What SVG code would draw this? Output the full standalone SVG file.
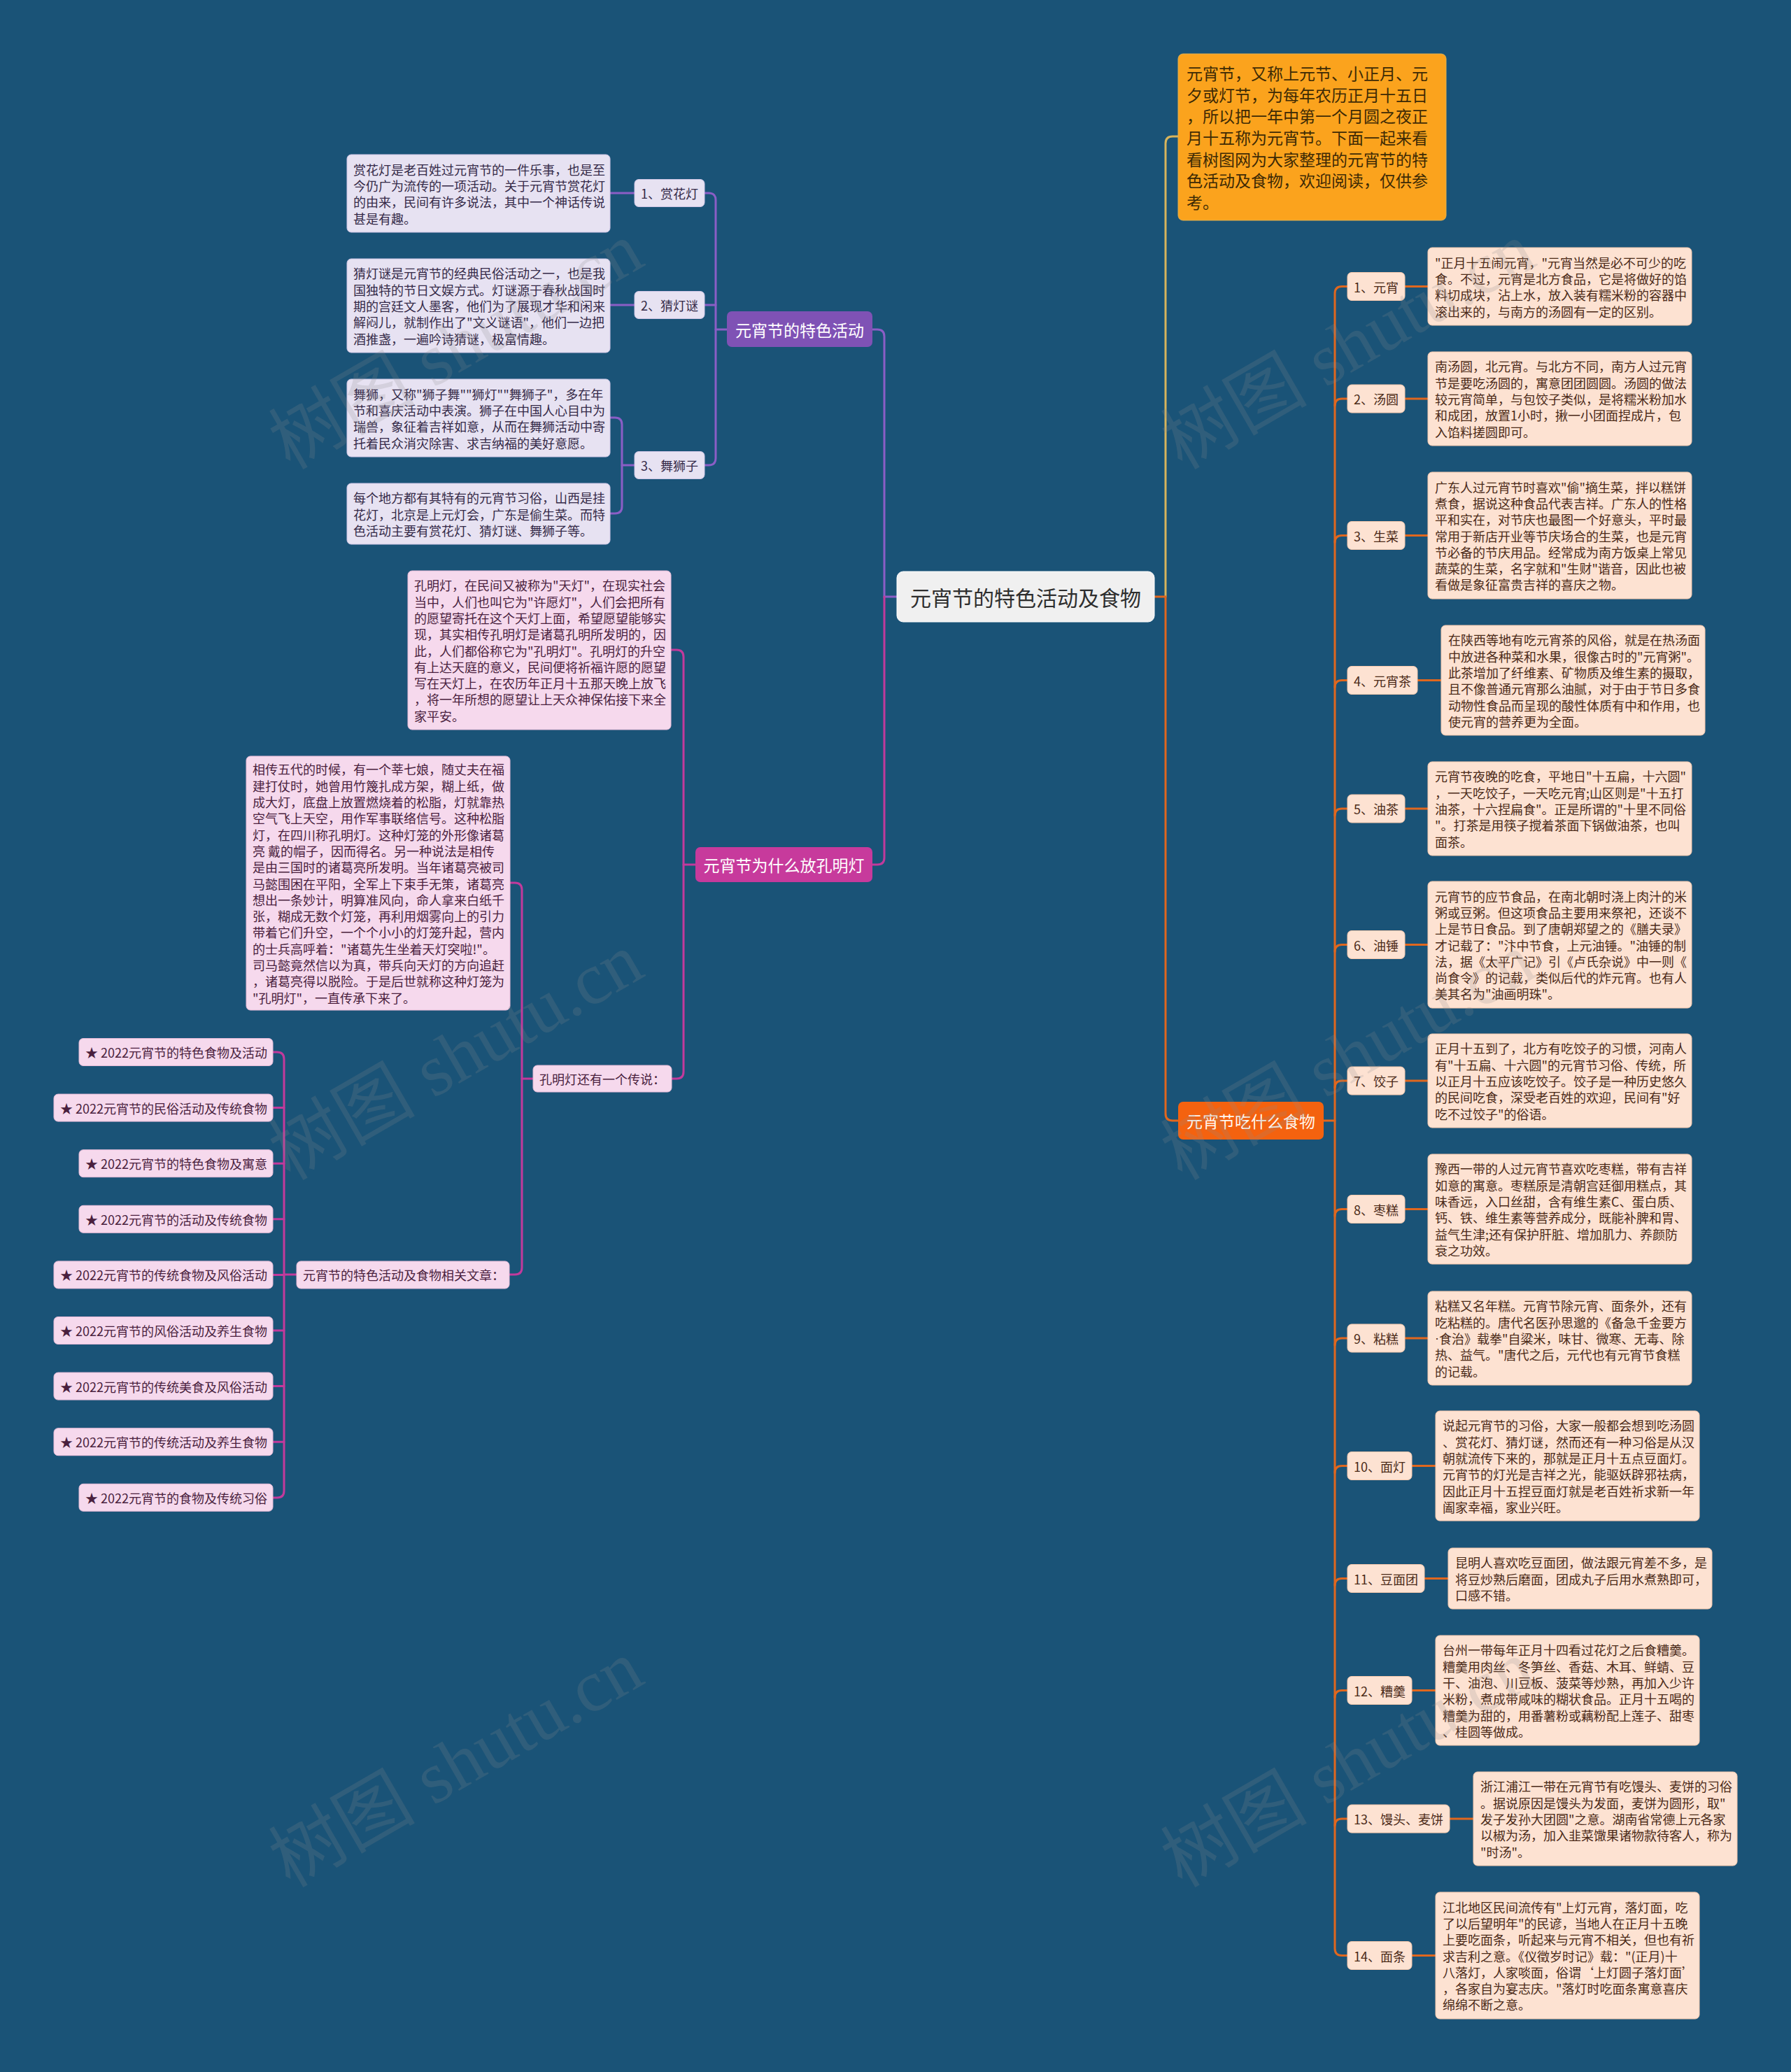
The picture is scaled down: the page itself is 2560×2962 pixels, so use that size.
<svg xmlns="http://www.w3.org/2000/svg" width="2560" height="2962" viewBox="0 0 2560 2962">
<style>
text{font-family:"Noto Sans CJK SC","Microsoft YaHei",sans-serif;dominant-baseline:central}
.t18{font-size:18px}
.t23{font-size:23px}
.food rect{fill:#fde2d2;stroke:#f6c9ae;stroke-width:1}
.food text{fill:#4b2a18}
.purp rect{fill:#e7e2f2;stroke:#cfc6e6;stroke-width:1}
.purp text{fill:#352a48}
.mag rect{fill:#f6d9ed;stroke:#e6bcd8;stroke-width:1}
.mag text{fill:#4a1f3e}
.c{fill:none;stroke-width:3;stroke-linecap:round}
.cp{stroke:#8b5ec6}
.cm{stroke:#c23a9c}
.co{stroke:#e0671e}
.cy{stroke:#d7b45c}
.wm{font-family:"Liberation Serif","Noto Sans CJK SC",serif;font-size:105px;fill:#8a8a8a;fill-opacity:0.2;dominant-baseline:auto}
</style>
<rect width="2560" height="2962" fill="#1a5377"/>

<g id="connectors">
<path class="c cy" d="M1666,853 V205 Q1666,195 1676,195 H1684"/>
<path class="c co" d="M1650,853 H1666 V1592 Q1666,1602 1676,1602 H1684"/>
<path class="c cp" d="M1282,853 H1264 V481 Q1264,471 1254,471 H1247"/>
<path class="c cm" d="M1264,853 V1226 Q1264,1236 1254,1236 H1247"/>
<path class="c cp" d="M1039,471 H1023"/>
<path class="c cp" d="M1007,276 H1013 Q1023,276 1023,286 V655 Q1023,665 1013,665 H1007"/>
<path class="c cp" d="M1007,436 H1023"/>
<path class="c cp" d="M907,276 H872"/>
<path class="c cp" d="M907,436 H872"/>
<path class="c cp" d="M907,665 H889"/>
<path class="c cp" d="M872,597 H879 Q889,597 889,607 V724 Q889,734 879,734 H872"/>
<path class="c cm" d="M994,1236 H977"/>
<path class="c cm" d="M959,929 H967 Q977,929 977,939 V1532 Q977,1542 967,1542 H960"/>
<path class="c cm" d="M762,1542 H746"/>
<path class="c cm" d="M729,1262 H736 Q746,1262 746,1272 V1812 Q746,1822 736,1822 H728"/>
<path class="c cm" d="M424,1822 H406"/>
<path class="c cm" d="M390,1504 H396 Q406,1504 406,1514 V2131 Q406,2141 396,2141 H390"/>
<path class="c cm" d="M390,1583.6 H406 M390,1663.2 H406 M390,1742.8 H406 M390,1822.4 H406 M390,1902 H406 M390,1981.6 H406 M390,2061.2 H406"/>
<path class="c co" d="M1892,1602 H1908"/>
<path class="c co" d="M1926,409.5 H1918 Q1908,409.5 1908,419.5 V2785.5 Q1908,2795.5 1918,2795.5 H1926"/>
<path class="c co" d="M1908,580 Q1908,570 1918,570 H1926 M1908,775.5 Q1908,765.5 1918,765.5 H1926 M1908,982.5 Q1908,972.5 1918,972.5 H1926 M1908,1166 Q1908,1156 1918,1156 H1926 M1908,1360.5 Q1908,1350.5 1918,1350.5 H1926 M1908,1555 Q1908,1545 1918,1545 H1926 M1908,1738.5 Q1908,1728.5 1918,1728.5 H1926 M1908,1923 Q1908,1913 1918,1913 H1926 M1908,2105.5 Q1908,2095.5 1918,2095.5 H1926 M1908,2266.5 Q1908,2256.5 1918,2256.5 H1926 M1908,2426.5 Q1908,2416.5 1918,2416.5 H1926 M1908,2610 Q1908,2600 1918,2600 H1926"/>
<path class="c co" d="M2008,409.5 H2041 M2008,570 H2041 M2008,765.5 H2041 M2026,972.5 H2060 M2008,1156 H2041 M2008,1350.5 H2041 M2008,1545 H2041 M2008,1728.5 H2041 M2008,1913 H2041 M2018,2095.5 H2052 M2036,2256.5 H2070 M2018,2416.5 H2052 M2072,2600 H2106 M2018,2795.5 H2052"/>
</g>

<g id="root">
<rect x="1282" y="817" width="368" height="72" rx="9" fill="#f0f0f0" stroke="#ffffff"/>
<text x="1466" y="853" font-size="30" fill="#2e2e2e" text-anchor="middle">元宵节的特色活动及食物</text>
</g>

<g id="intro">
<rect x="1684" y="77" width="383" height="238" rx="7" fill="#fba31d" stroke="#e0b050"/>
<text class="t23" fill="#3d2a05" x="1696">
<tspan x="1696" y="104.2">元宵节，又称上元节、小正月、元</tspan>
<tspan x="1696" y="134.8">夕或灯节，为每年农历正月十五日</tspan>
<tspan x="1696" y="165.4">，所以把一年中第一个月圆之夜正</tspan>
<tspan x="1696" y="196">月十五称为元宵节。下面一起来看</tspan>
<tspan x="1696" y="226.6">看树图网为大家整理的元宵节的特</tspan>
<tspan x="1696" y="257.2">色活动及食物，欢迎阅读，仅供参</tspan>
<tspan x="1696" y="287.8">考。</tspan>
</text>
</g>

<g id="food-node">
<rect x="1684" y="1575" width="208" height="54" rx="7" fill="#f4620f"/>
<text class="t23" x="1788" y="1602" fill="#fff6ee" text-anchor="middle">元宵节吃什么食物</text>
</g>

<g id="activity-node">
<rect x="1039" y="445" width="208" height="51" rx="7" fill="#7f52b5"/>
<text class="t23" x="1143" y="470.5" fill="#ffffff" text-anchor="middle">元宵节的特色活动</text>
</g>

<g id="kongming-node">
<rect x="994" y="1211" width="253" height="50" rx="7" fill="#c73a9c"/>
<text class="t23" x="1120.5" y="1236" fill="#ffffff" text-anchor="middle">元宵节为什么放孔明灯</text>
</g>

<g id="p-label-1" class="purp"><rect x="907" y="256.5" width="100" height="39" rx="6"/><text class="t18" x="916" y="276">1、赏花灯</text></g>
<g id="p-label-2" class="purp"><rect x="907" y="416.5" width="100" height="39" rx="6"/><text class="t18" x="916" y="436">2、猜灯谜</text></g>
<g id="p-label-3" class="purp"><rect x="907" y="645.5" width="100" height="39" rx="6"/><text class="t18" x="916" y="665">3、舞狮子</text></g>
<g id="p-text-1" class="purp"><rect x="496" y="221" width="376" height="111" rx="6"/>
<text class="t18"><tspan x="505" y="241.6">赏花灯是老百姓过元宵节的一件乐事，也是至</tspan><tspan x="505" y="264.9">今仍广为流传的一项活动。关于元宵节赏花灯</tspan><tspan x="505" y="288.2">的由来，民间有许多说法，其中一个神话传说</tspan><tspan x="505" y="311.5">甚是有趣。</tspan></text></g>
<g id="p-text-2" class="purp"><rect x="496" y="370" width="376" height="134" rx="6"/>
<text class="t18"><tspan x="505" y="390.4">猜灯谜是元宵节的经典民俗活动之一，也是我</tspan><tspan x="505" y="413.7">国独特的节日文娱方式。灯谜源于春秋战国时</tspan><tspan x="505" y="437">期的宫廷文人墨客，他们为了展现才华和闲来</tspan><tspan x="505" y="460.3">解闷儿，就制作出了"文义谜语"，他们一边把</tspan><tspan x="505" y="483.6">酒推盏，一遍吟诗猜谜，极富情趣。</tspan></text></g>
<g id="p-text-3" class="purp"><rect x="496" y="542" width="376" height="111" rx="6"/>
<text class="t18"><tspan x="505" y="562.6">舞狮，又称"狮子舞""狮灯""舞狮子"，多在年</tspan><tspan x="505" y="585.9">节和喜庆活动中表演。狮子在中国人心目中为</tspan><tspan x="505" y="609.2">瑞兽，象征着吉祥如意，从而在舞狮活动中寄</tspan><tspan x="505" y="632.5">托着民众消灾除害、求吉纳福的美好意愿。</tspan></text></g>
<g id="p-text-4" class="purp"><rect x="496" y="691" width="376" height="87" rx="6"/>
<text class="t18"><tspan x="505" y="711.2">每个地方都有其特有的元宵节习俗，山西是挂</tspan><tspan x="505" y="734.5">花灯，北京是上元灯会，广东是偷生菜。而特</tspan><tspan x="505" y="757.8">色活动主要有赏花灯、猜灯谜、舞狮子等。</tspan></text></g>

<g id="m-text-1" class="mag"><rect x="583" y="816" width="376" height="227" rx="6"/>
<text class="t18"><tspan x="592" y="836.3">孔明灯，在民间又被称为"天灯"，在现实社会</tspan><tspan x="592" y="859.6">当中，人们也叫它为"许愿灯"，人们会把所有</tspan><tspan x="592" y="882.9">的愿望寄托在这个天灯上面，希望愿望能够实</tspan><tspan x="592" y="906.2">现，其实相传孔明灯是诸葛孔明所发明的，因</tspan><tspan x="592" y="929.5">此，人们都俗称它为"孔明灯"。孔明灯的升空</tspan><tspan x="592" y="952.8">有上达天庭的意义，民间便将祈福许愿的愿望</tspan><tspan x="592" y="976.1">写在天灯上，在农历年正月十五那天晚上放飞</tspan><tspan x="592" y="999.4">，将一年所想的愿望让上天众神保佑接下来全</tspan><tspan x="592" y="1022.7">家平安。</tspan></text></g>
<g id="m-legend" class="mag"><rect x="762" y="1523" width="198" height="38" rx="6"/><text class="t18" x="771" y="1542">孔明灯还有一个传说：</text></g>
<g id="m-text-2" class="mag"><rect x="352" y="1081" width="377" height="363" rx="6"/>
<text class="t18"><tspan x="361" y="1099.4">相传五代的时候，有一个莘七娘，随丈夫在福</tspan><tspan x="361" y="1122.7">建打仗时，她曾用竹篾扎成方架，糊上纸，做</tspan><tspan x="361" y="1146">成大灯，底盘上放置燃烧着的松脂，灯就靠热</tspan><tspan x="361" y="1169.3">空气飞上天空，用作军事联络信号。这种松脂</tspan><tspan x="361" y="1192.6">灯，在四川称孔明灯。这种灯笼的外形像诸葛</tspan><tspan x="361" y="1215.9">亮 戴的帽子，因而得名。另一种说法是相传</tspan><tspan x="361" y="1239.2">是由三国时的诸葛亮所发明。当年诸葛亮被司</tspan><tspan x="361" y="1262.5">马懿围困在平阳，全军上下束手无策，诸葛亮</tspan><tspan x="361" y="1285.8">想出一条妙计，明算准风向，命人拿来白纸千</tspan><tspan x="361" y="1309.1">张，糊成无数个灯笼，再利用烟雾向上的引力</tspan><tspan x="361" y="1332.4">带着它们升空，一个个小小的灯笼升起，营内</tspan><tspan x="361" y="1355.7">的士兵高呼着："诸葛先生坐着天灯突啦!"。</tspan><tspan x="361" y="1379">司马懿竟然信以为真，带兵向天灯的方向追赶</tspan><tspan x="361" y="1402.3">，诸葛亮得以脱险。于是后世就称这种灯笼为</tspan><tspan x="361" y="1425.6">"孔明灯"，一直传承下来了。</tspan></text></g>
<g id="m-articles" class="mag"><rect x="424" y="1803" width="304" height="39" rx="6"/><text class="t18" x="433" y="1822">元宵节的特色活动及食物相关文章：</text></g>
<g id="a1" class="mag"><rect x="113" y="1484.5" width="277" height="39" rx="6"/><text class="t18" x="122" y="1504">★ 2022元宵节的特色食物及活动</text></g>
<g id="a2" class="mag"><rect x="77" y="1564.1" width="313" height="39" rx="6"/><text class="t18" x="86" y="1583.6">★ 2022元宵节的民俗活动及传统食物</text></g>
<g id="a3" class="mag"><rect x="113" y="1643.7" width="277" height="39" rx="6"/><text class="t18" x="122" y="1663.2">★ 2022元宵节的特色食物及寓意</text></g>
<g id="a4" class="mag"><rect x="113" y="1723.3" width="277" height="39" rx="6"/><text class="t18" x="122" y="1742.8">★ 2022元宵节的活动及传统食物</text></g>
<g id="a5" class="mag"><rect x="77" y="1802.9" width="313" height="39" rx="6"/><text class="t18" x="86" y="1822.4">★ 2022元宵节的传统食物及风俗活动</text></g>
<g id="a6" class="mag"><rect x="77" y="1882.5" width="313" height="39" rx="6"/><text class="t18" x="86" y="1902">★ 2022元宵节的风俗活动及养生食物</text></g>
<g id="a7" class="mag"><rect x="77" y="1962.1" width="313" height="39" rx="6"/><text class="t18" x="86" y="1981.6">★ 2022元宵节的传统美食及风俗活动</text></g>
<g id="a8" class="mag"><rect x="77" y="2041.7" width="313" height="39" rx="6"/><text class="t18" x="86" y="2061.2">★ 2022元宵节的传统活动及养生食物</text></g>
<g id="a9" class="mag"><rect x="113" y="2121.3" width="277" height="39" rx="6"/><text class="t18" x="122" y="2140.8">★ 2022元宵节的食物及传统习俗</text></g>

<g id="f1" class="food"><rect x="1926" y="389.5" width="82" height="40" rx="6"/><text class="t18" x="1935" y="409.5">1、元宵</text>
<rect x="2041" y="354" width="377" height="111" rx="6"/>
<text class="t18"><tspan x="2051" y="374.6">"正月十五闹元宵，"元宵当然是必不可少的吃</tspan><tspan x="2051" y="397.9">食。不过，元宵是北方食品，它是将做好的馅</tspan><tspan x="2051" y="421.2">料切成块，沾上水，放入装有糯米粉的容器中</tspan><tspan x="2051" y="444.5">滚出来的，与南方的汤圆有一定的区别。</tspan></text></g>
<g id="f2" class="food"><rect x="1926" y="550" width="82" height="40" rx="6"/><text class="t18" x="1935" y="570">2、汤圆</text>
<rect x="2041" y="503" width="377" height="134" rx="6"/>
<text class="t18"><tspan x="2051" y="523.4">南汤圆，北元宵。与北方不同，南方人过元宵</tspan><tspan x="2051" y="546.7">节是要吃汤圆的，寓意团团圆圆。汤圆的做法</tspan><tspan x="2051" y="570">较元宵简单，与包饺子类似，是将糯米粉加水</tspan><tspan x="2051" y="593.3">和成团，放置1小时，揪一小团面捏成片，包</tspan><tspan x="2051" y="616.6">入馅料搓圆即可。</tspan></text></g>
<g id="f3" class="food"><rect x="1926" y="745.5" width="82" height="40" rx="6"/><text class="t18" x="1935" y="765.5">3、生菜</text>
<rect x="2041" y="675" width="377" height="181" rx="6"/>
<text class="t18"><tspan x="2051" y="695.6">广东人过元宵节时喜欢"偷"摘生菜，拌以糕饼</tspan><tspan x="2051" y="718.9">煮食，据说这种食品代表吉祥。广东人的性格</tspan><tspan x="2051" y="742.2">平和实在，对节庆也最图一个好意头，平时最</tspan><tspan x="2051" y="765.5">常用于新店开业等节庆场合的生菜，也是元宵</tspan><tspan x="2051" y="788.8">节必备的节庆用品。经常成为南方饭桌上常见</tspan><tspan x="2051" y="812.1">蔬菜的生菜，名字就和"生财"谐音，因此也被</tspan><tspan x="2051" y="835.4">看做是象征富贵吉祥的喜庆之物。</tspan></text></g>
<g id="f4" class="food"><rect x="1926" y="952.5" width="100" height="40" rx="6"/><text class="t18" x="1935" y="972.5">4、元宵茶</text>
<rect x="2060" y="894" width="377" height="157" rx="6"/>
<text class="t18"><tspan x="2070" y="914.3">在陕西等地有吃元宵茶的风俗，就是在热汤面</tspan><tspan x="2070" y="937.6">中放进各种菜和水果，很像古时的"元宵粥"。</tspan><tspan x="2070" y="960.9">此茶增加了纤维素、矿物质及维生素的摄取，</tspan><tspan x="2070" y="984.2">且不像普通元宵那么油腻，对于由于节日多食</tspan><tspan x="2070" y="1007.5">动物性食品而呈现的酸性体质有中和作用，也</tspan><tspan x="2070" y="1030.8">使元宵的营养更为全面。</tspan></text></g>
<g id="f5" class="food"><rect x="1926" y="1136" width="82" height="40" rx="6"/><text class="t18" x="1935" y="1156">5、油茶</text>
<rect x="2041" y="1089" width="377" height="134" rx="6"/>
<text class="t18"><tspan x="2051" y="1109.4">元宵节夜晚的吃食，平地日"十五扁，十六圆"</tspan><tspan x="2051" y="1132.7">，一天吃饺子，一天吃元宵;山区则是"十五打</tspan><tspan x="2051" y="1156">油茶，十六捏扁食"。正是所谓的"十里不同俗</tspan><tspan x="2051" y="1179.3">"。打茶是用筷子搅着茶面下锅做油茶，也叫</tspan><tspan x="2051" y="1202.6">面茶。</tspan></text></g>
<g id="f6" class="food"><rect x="1926" y="1330.5" width="82" height="40" rx="6"/><text class="t18" x="1935" y="1350.5">6、油锤</text>
<rect x="2041" y="1260" width="377" height="181" rx="6"/>
<text class="t18"><tspan x="2051" y="1280.6">元宵节的应节食品，在南北朝时浇上肉汁的米</tspan><tspan x="2051" y="1303.9">粥或豆粥。但这项食品主要用来祭祀，还谈不</tspan><tspan x="2051" y="1327.2">上是节日食品。到了唐朝郑望之的《膳夫录》</tspan><tspan x="2051" y="1350.5">才记载了："汴中节食，上元油锤。"油锤的制</tspan><tspan x="2051" y="1373.8">法，据《太平广记》引《卢氏杂说》中一则《</tspan><tspan x="2051" y="1397.1">尚食令》的记载，类似后代的炸元宵。也有人</tspan><tspan x="2051" y="1420.4">美其名为"油画明珠"。</tspan></text></g>
<g id="f7" class="food"><rect x="1926" y="1525" width="82" height="40" rx="6"/><text class="t18" x="1935" y="1545">7、饺子</text>
<rect x="2041" y="1478" width="377" height="134" rx="6"/>
<text class="t18"><tspan x="2051" y="1498.4">正月十五到了，北方有吃饺子的习惯，河南人</tspan><tspan x="2051" y="1521.7">有"十五扁、十六圆"的元宵节习俗、传统，所</tspan><tspan x="2051" y="1545">以正月十五应该吃饺子。饺子是一种历史悠久</tspan><tspan x="2051" y="1568.3">的民间吃食，深受老百姓的欢迎，民间有"好</tspan><tspan x="2051" y="1591.6">吃不过饺子"的俗语。</tspan></text></g>
<g id="f8" class="food"><rect x="1926" y="1708.5" width="82" height="40" rx="6"/><text class="t18" x="1935" y="1728.5">8、枣糕</text>
<rect x="2041" y="1650" width="377" height="157" rx="6"/>
<text class="t18"><tspan x="2051" y="1670.3">豫西一带的人过元宵节喜欢吃枣糕，带有吉祥</tspan><tspan x="2051" y="1693.6">如意的寓意。枣糕原是清朝宫廷御用糕点，其</tspan><tspan x="2051" y="1716.9">味香远，入口丝甜，含有维生素C、蛋白质、</tspan><tspan x="2051" y="1740.2">钙、铁、维生素等营养成分，既能补脾和胃、</tspan><tspan x="2051" y="1763.5">益气生津;还有保护肝脏、增加肌力、养颜防</tspan><tspan x="2051" y="1786.8">衰之功效。</tspan></text></g>
<g id="f9" class="food"><rect x="1926" y="1893" width="82" height="40" rx="6"/><text class="t18" x="1935" y="1913">9、粘糕</text>
<rect x="2041" y="1846" width="377" height="134" rx="6"/>
<text class="t18"><tspan x="2051" y="1866.4">粘糕又名年糕。元宵节除元宵、面条外，还有</tspan><tspan x="2051" y="1889.7">吃粘糕的。唐代名医孙思邈的《备急千金要方</tspan><tspan x="2051" y="1913"><tspan font-family="Liberation Sans">·</tspan>食治》载拳"自粱米，味甘、微寒、无毒、除</tspan><tspan x="2051" y="1936.3">热、益气。"唐代之后，元代也有元宵节食糕</tspan><tspan x="2051" y="1959.6">的记载。</tspan></text></g>
<g id="f10" class="food"><rect x="1926" y="2075.5" width="92" height="40" rx="6"/><text class="t18" x="1935" y="2095.5">10、面灯</text>
<rect x="2052" y="2017" width="377" height="157" rx="6"/>
<text class="t18"><tspan x="2062" y="2037.3">说起元宵节的习俗，大家一般都会想到吃汤圆</tspan><tspan x="2062" y="2060.6">、赏花灯、猜灯谜，然而还有一种习俗是从汉</tspan><tspan x="2062" y="2083.9">朝就流传下来的，那就是正月十五点豆面灯。</tspan><tspan x="2062" y="2107.2">元宵节的灯光是吉祥之光，能驱妖辟邪祛病，</tspan><tspan x="2062" y="2130.5">因此正月十五捏豆面灯就是老百姓祈求新一年</tspan><tspan x="2062" y="2153.8">阖家幸福，家业兴旺。</tspan></text></g>
<g id="f11" class="food"><rect x="1926" y="2236.5" width="110" height="40" rx="6"/><text class="t18" x="1935" y="2256.5">11、豆面团</text>
<rect x="2070" y="2213" width="377" height="87" rx="6"/>
<text class="t18"><tspan x="2080" y="2233.2">昆明人喜欢吃豆面团，做法跟元宵差不多，是</tspan><tspan x="2080" y="2256.5">将豆炒熟后磨面，团成丸子后用水煮熟即可，</tspan><tspan x="2080" y="2279.8">口感不错。</tspan></text></g>
<g id="f12" class="food"><rect x="1926" y="2396.5" width="92" height="40" rx="6"/><text class="t18" x="1935" y="2416.5">12、糟羹</text>
<rect x="2052" y="2338" width="377" height="157" rx="6"/>
<text class="t18"><tspan x="2062" y="2358.3">台州一带每年正月十四看过花灯之后食糟羹。</tspan><tspan x="2062" y="2381.6">糟羹用肉丝、冬笋丝、香菇、木耳、鲜蜻、豆</tspan><tspan x="2062" y="2404.9">干、油泡、川豆板、菠菜等炒熟，再加入少许</tspan><tspan x="2062" y="2428.2">米粉，煮成带咸味的糊状食品。正月十五喝的</tspan><tspan x="2062" y="2451.5">糟羹为甜的，用番薯粉或藕粉配上莲子、甜枣</tspan><tspan x="2062" y="2474.8">、桂圆等做成。</tspan></text></g>
<g id="f13" class="food"><rect x="1926" y="2580" width="146" height="40" rx="6"/><text class="t18" x="1935" y="2600">13、馒头、麦饼</text>
<rect x="2106" y="2533" width="377" height="134" rx="6"/>
<text class="t18"><tspan x="2116" y="2553.4">浙江浦江一带在元宵节有吃馒头、麦饼的习俗</tspan><tspan x="2116" y="2576.7">。据说原因是馒头为发面，麦饼为圆形，取"</tspan><tspan x="2116" y="2600">发子发孙大团圆"之意。湖南省常德上元各家</tspan><tspan x="2116" y="2623.3">以椒为汤，加入韭菜馓果诸物款待客人，称为</tspan><tspan x="2116" y="2646.6">"时汤"。</tspan></text></g>
<g id="f14" class="food"><rect x="1926" y="2775.5" width="92" height="40" rx="6"/><text class="t18" x="1935" y="2795.5">14、面条</text>
<rect x="2052" y="2705" width="377" height="181" rx="6"/>
<text class="t18"><tspan x="2062" y="2725.6">江北地区民间流传有"上灯元宵，落灯面，吃</tspan><tspan x="2062" y="2748.9">了以后望明年"的民谚，当地人在正月十五晚</tspan><tspan x="2062" y="2772.2">上要吃面条，听起来与元宵不相关，但也有祈</tspan><tspan x="2062" y="2795.5">求吉利之意。《仪徵岁时记》载："(正月)十</tspan><tspan x="2062" y="2818.8">八落灯，人家啖面，俗谓‘上灯圆子落灯面’</tspan><tspan x="2062" y="2842.1">，各家自为宴志庆。"落灯时吃面条寓意喜庆</tspan><tspan x="2062" y="2865.4">绵绵不断之意。</tspan></text></g>

<g id="watermarks">
<text class="wm" x="652" y="530" text-anchor="middle" transform="rotate(-30 652 495)">树图 shutu.cn</text>
<text class="wm" x="652" y="1546" text-anchor="middle" transform="rotate(-30 652 1511)">树图 shutu.cn</text>
<text class="wm" x="652" y="2557" text-anchor="middle" transform="rotate(-30 652 2522)">树图 shutu.cn</text>
<text class="wm" x="1927" y="530" text-anchor="middle" transform="rotate(-30 1927 495)">树图 shutu.cn</text>
<text class="wm" x="1927" y="1546" text-anchor="middle" transform="rotate(-30 1927 1511)">树图 shutu.cn</text>
<text class="wm" x="1927" y="2557" text-anchor="middle" transform="rotate(-30 1927 2522)">树图 shutu.cn</text>
</g>
</svg>
